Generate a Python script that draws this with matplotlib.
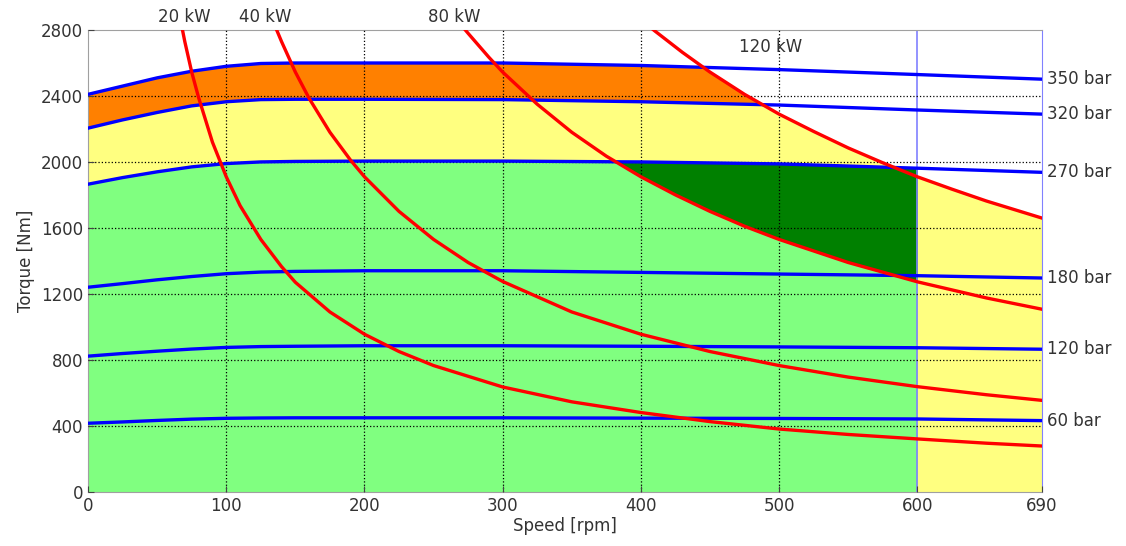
import numpy as np
import matplotlib
matplotlib.use('Agg')
import matplotlib.pyplot as plt

# pressure lines (blue)
speed_bar = [0, 25, 50, 75, 100, 125, 150, 200, 300, 400, 500, 600, 690]
bar_labels = ['350 bar', '320 bar', '270 bar', '180 bar', '120 bar', '60 bar']
t_350 = [2410, 2460, 2510, 2550, 2580, 2597, 2600, 2600, 2600, 2585, 2560, 2530, 2502]
t_320 = [2205, 2255, 2300, 2340, 2365, 2378, 2380, 2380, 2378, 2365, 2345, 2315, 2290]
t_270 = [1865, 1905, 1940, 1970, 1990, 2000, 2003, 2005, 2005, 2000, 1988, 1962, 1937]
t_180 = [1240, 1262, 1285, 1305, 1322, 1332, 1336, 1340, 1340, 1330, 1320, 1310, 1296]
t_120 = [822, 838, 852, 865, 875, 880, 882, 885, 885, 882, 878, 873, 864]
t_60 = [415, 423, 432, 440, 445, 447, 448, 448, 448, 446, 444, 441, 431]

# power lines (red)
kw_labels = ['20 kW', '40 kW', '80 kW', '120 kW']
s_20 = [65, 70, 75, 80, 90, 100, 110, 125, 140, 150, 175, 200, 225, 250, 300,
        350, 400, 450, 500, 550, 600, 650, 690]
p_20 = [2940, 2730, 2545, 2390, 2120, 1910, 1735, 1530, 1365, 1270, 1090, 955, 850, 765, 635,
        545, 480, 425, 380, 347, 320, 294, 277]
s_40 = [132, 140, 150, 160, 175, 190, 200, 225, 250, 275, 300, 350, 400, 450,
        500, 550, 600, 650, 690]
p_40 = [2890, 2730, 2545, 2385, 2180, 2010, 1910, 1700, 1530, 1390, 1275, 1090, 955, 850,
        765, 695, 637, 588, 554]
s_80 = [268, 275, 290, 300, 325, 350, 375, 400, 425, 450, 475, 500, 550, 600, 650, 690]
p_80 = [2850, 2780, 2635, 2545, 2350, 2180, 2035, 1910, 1800, 1700, 1610, 1530, 1390, 1273, 1175, 1107]
s_120 = [405, 410, 430, 450, 475, 500, 525, 550, 575, 600, 625, 650, 690]
p_120 = [2830, 2795, 2665, 2545, 2410, 2290, 2185, 2085, 1995, 1910, 1835, 1763, 1660]

x_ticks = [0, 100, 200, 300, 400, 500, 600, 690]
y_ticks = [0, 400, 800, 1200, 1600, 2000, 2400, 2800]

fig = plt.figure(figsize=(11.26, 5.46), dpi=100)
ax = fig.add_axes([0.0782, 0.0995, 0.8469, 0.8455])

xf = np.linspace(0, 690, 2761)
b350 = np.interp(xf, speed_bar, t_350)
b320 = np.interp(xf, speed_bar, t_320)
b270 = np.interp(xf, speed_bar, t_270)
r80 = np.interp(xf, s_80, p_80, left=1e6)
r120 = np.interp(xf, s_120, p_120, left=1e6)

ax.fill_between(xf, 0, np.minimum(b320, r120), color='#ffff80', lw=0, zorder=1)
ax.fill_between(xf, 0, b270, where=xf <= 600, color='#80ff80', lw=0, zorder=1)
ax.fill_between(xf, b320, np.minimum(b350, r120), where=r120 > b320,
                interpolate=True, color='#ff8000', lw=0, zorder=1)
ax.fill_between(xf, r80, b270, where=(r80 < b270) & (xf <= 600),
                interpolate=True, color='#008000', lw=0, zorder=1)

for t, lab in zip([t_350, t_320, t_270, t_180, t_120, t_60], bar_labels):
    ax.plot(speed_bar, t, color='#0000ff', lw=2.4, zorder=3)
    ax.text(694, t[-1], lab, fontsize=12, color='#333333', va='center', ha='left', clip_on=False)

for s, p in zip([s_20, s_40, s_80, s_120], [p_20, p_40, p_80, p_120]):
    ax.plot(s, p, color='#ff0000', lw=2.4, zorder=4, solid_joinstyle='round')

ax.axvline(600, color='#8080ff', lw=1.2, zorder=2)

ax.text(70, 2880, kw_labels[0], fontsize=12, color='#333333', ha='center', va='center')
ax.text(128, 2880, kw_labels[1], fontsize=12, color='#333333', ha='center', va='center')
ax.text(265, 2880, kw_labels[2], fontsize=12, color='#333333', ha='center', va='center')
ax.text(494, 2697, kw_labels[3], fontsize=12, color='#333333', ha='center', va='center')

ax.set_xlim(0, 690)
ax.set_ylim(0, 2800)
ax.set_xticks(x_ticks)
ax.set_yticks(y_ticks)
ax.tick_params(direction='in', length=4, labelsize=12, labelcolor='#333333', color='#444444')
ax.set_axisbelow(False)
ax.grid(True, linestyle=':', color='black', lw=0.9)
# no grid lines on the frame or under the 600 rpm limit line
for i, g in enumerate(ax.xaxis.get_gridlines()):
    if x_ticks[i] in (0, 600, 690):
        g.set_visible(False)
for i, g in enumerate(ax.yaxis.get_gridlines()):
    if y_ticks[i] in (0, 2800):
        g.set_visible(False)
for side in ['left', 'top', 'bottom']:
    ax.spines[side].set_color('#a0a0a0')
ax.spines['right'].set_color('#8080ff')
ax.set_xlabel('Speed [rpm]', fontsize=12, color='#333333', labelpad=2)
ax.set_ylabel('Torque [Nm]', fontsize=12, color='#333333', labelpad=4)

plt.savefig('out.png', dpi=100)
